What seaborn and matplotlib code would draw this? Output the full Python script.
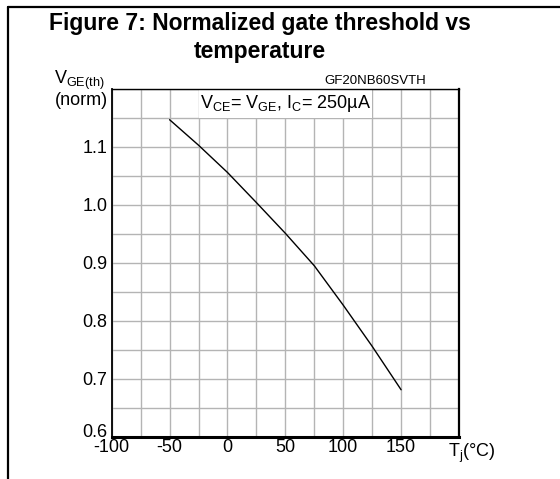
import numpy as np
import pandas as pd
import matplotlib
matplotlib.use("Agg")
import matplotlib.pyplot as plt
from matplotlib.lines import Line2D
from matplotlib.patches import Rectangle
from matplotlib.ticker import MultipleLocator
from matplotlib.transforms import ScaledTranslation
import seaborn as sns

# ---- data ----
temperature_c = [-50, -25, 0, 25, 50, 75, 100, 125, 150]
vge_th_norm = [1.147, 1.103, 1.056, 1.004, 0.951, 0.895, 0.827, 0.756, 0.681]
x_tick_values = [-100, -50, 0, 50, 100, 150]
x_tick_labels = ["-100", "-50", "0", "50", "100", "150"]
y_tick_values = [0.6, 0.7, 0.8, 0.9, 1.0, 1.1]
y_tick_labels = ["0.6", "0.7", "0.8", "0.9", "1.0", "1.1"]
title_text = "Figure 7: Normalized gate threshold vs\ntemperature"
part_text = "GF20NB60SVTH"
cond_text = r"V$_{\mathrm{CE}}$= V$_{\mathrm{GE}}$, I$_{\mathrm{C}}$= 250µA"

sns.set_style("white")
plt.rcParams["font.family"] = ["Liberation Sans", "DejaVu Sans"]
plt.rcParams["text.color"] = "black"
plt.rcParams["mathtext.fontset"] = "custom"
plt.rcParams["mathtext.rm"] = "Liberation Sans"
plt.rcParams["mathtext.it"] = "Liberation Sans:italic"
plt.rcParams["mathtext.bf"] = "Liberation Sans:bold"

df = pd.DataFrame({"T": temperature_c, "V": vge_th_norm})

fig = plt.figure(figsize=(5.6, 4.79), dpi=100)
ax = fig.add_axes([0.1995, 0.0883, 0.6201, 0.7259])

sns.lineplot(data=df, x="T", y="V", ax=ax, color="black", linewidth=1.0, zorder=3)

ax.set_xlim(-100, 200)
ax.set_ylim(0.6, 1.2)
ax.xaxis.set_major_locator(MultipleLocator(50))
ax.xaxis.set_minor_locator(MultipleLocator(25))
ax.yaxis.set_major_locator(MultipleLocator(0.1))
ax.yaxis.set_minor_locator(MultipleLocator(0.05))
ax.grid(True, which="both", color="#b4b4b4", linewidth=1.0)
ax.set_axisbelow(True)

ax.set_xticks(x_tick_values)
ax.set_xticklabels(x_tick_labels)
ax.set_yticks(y_tick_values)
ax.set_yticklabels(y_tick_labels)
ax.tick_params(axis="both", which="both", length=0, labelsize=13, colors="black")
ax.tick_params(axis="x", pad=2)
ax.tick_params(axis="y", pad=3)
ax.set_xlabel("")
ax.set_ylabel("")

# lift the bottom y label ("0.6") slightly above the x-axis line, as in the reference
lab0 = ax.get_yticklabels()[0]
lab0.set_transform(lab0.get_transform() + ScaledTranslation(0, 6 / 100, fig.dpi_scale_trans))

for side, lw in [("left", 1.3), ("bottom", 2.2), ("right", 1.6), ("top", 1.0)]:
    ax.spines[side].set_visible(True)
    ax.spines[side].set_color("black")
    ax.spines[side].set_linewidth(lw)

# white box behind the test condition text
ax.add_patch(Rectangle((-25, 1.15), 150, 0.05, facecolor="white", edgecolor="none", zorder=2))
ax.text(50, 1.175, cond_text, ha="center", va="center", fontsize=13, zorder=4)

# part number above top-right
ax.text(172, 1.203, part_text, ha="right", va="bottom", fontsize=9.5)

# y-axis label at top-left
ax.text(-0.012, 0.968, "(norm)", transform=ax.transAxes, ha="right", va="center", fontsize=13)
fig.text(0.186, 0.833, r"V$_{\mathrm{GE(th)}}$", ha="right", va="center", fontsize=13)

# x-axis label at right end
ax.text(1.037, -0.015, r"T$_{\mathrm{j}}$(°C)", transform=ax.transAxes, ha="center", va="top", fontsize=13)

# title
fig.text(0.4634, 0.975, title_text, ha="center", va="top", fontsize=16.5,
         fontweight="bold", linespacing=1.3)

# outer frame lines
fig.add_artist(Line2D([0.0145, 0.0145], [0.0, 0.986], transform=fig.transFigure,
                      color="black", linewidth=1.6))
fig.add_artist(Line2D([0.0135, 1.0], [0.986, 0.986], transform=fig.transFigure,
                      color="black", linewidth=1.6))

fig.savefig("out.png", dpi=100)
